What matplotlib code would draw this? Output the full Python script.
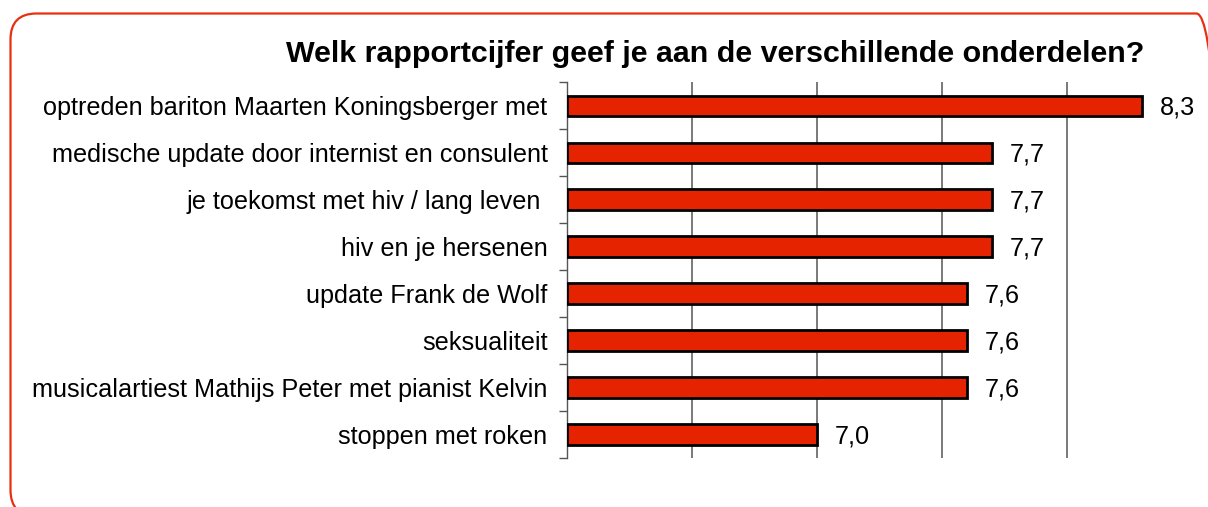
import matplotlib.pyplot as plt
import numpy as np
from matplotlib.patches import FancyBboxPatch
from matplotlib.transforms import IdentityTransform

plt.rcParams['font.family'] = ['Liberation Sans', 'DejaVu Sans']

# onderdelen en rapportcijfers (bovenaan eerst)
onderdelen = [
    'optreden bariton Maarten Koningsberger met',
    'medische update door internist en consulent',
    'je toekomst met hiv / lang leven ',
    'hiv en je hersenen',
    'update Frank de Wolf',
    'seksualiteit',
    'musicalartiest Mathijs Peter met pianist Kelvin',
    'stoppen met roken',
]
cijfers = [8.3, 7.7, 7.7, 7.7, 7.6, 7.6, 7.6, 7.0]
titel = 'Welk rapportcijfer geef je aan de verschillende onderdelen?'

fig = plt.figure(figsize=(12.08, 5.07), dpi=100)
ax = fig.add_axes([0.4694, 0.0966, 0.5174, 0.7414])

y = np.arange(len(onderdelen))[::-1]
ax.barh(y, np.array(cijfers) - 6.0, left=6.0, height=0.43,
        color='#e52300', edgecolor='black', linewidth=2, zorder=3)

for yi, v in zip(y, cijfers):
    ax.text(v + 0.072, yi - 0.04, f'{v:.1f}'.replace('.', ','), va='center', ha='left',
            fontsize=18.2, color='black')

ax.set_xlim(6.0, 8.5)
ax.set_ylim(-0.5, len(onderdelen) - 0.5)
ax.set_xticks([6.5, 7.0, 7.5, 8.0])
ax.xaxis.grid(True, color='#6e6e6e', linewidth=1.3, zorder=0)
ax.tick_params(axis='x', length=0, labelbottom=False)

ax.set_yticks(y)
ax.set_yticklabels(onderdelen, fontsize=18.2)
ax.set_yticks(np.arange(-0.5, len(onderdelen)), minor=True)
ax.tick_params(axis='y', which='major', length=0, pad=14)
ax.tick_params(axis='y', which='minor', length=6, width=1, color='#555555', direction='out')

for s in ['top', 'right', 'bottom']:
    ax.spines[s].set_visible(False)
ax.spines['left'].set_color('#555555')
ax.spines['left'].set_linewidth(1)

fig.text(0.592, 0.893, titel, ha='center', va='center', fontsize=21.9, fontweight='bold')

rand = FancyBboxPatch((10.5, -9), 1212, 502.5,
                      boxstyle='round,pad=0,rounding_size=26',
                      transform=IdentityTransform(), facecolor='none',
                      edgecolor='#e8300e', linewidth=1.6, zorder=10)
fig.patches.append(rand)

fig.savefig('out.png', dpi=100)
